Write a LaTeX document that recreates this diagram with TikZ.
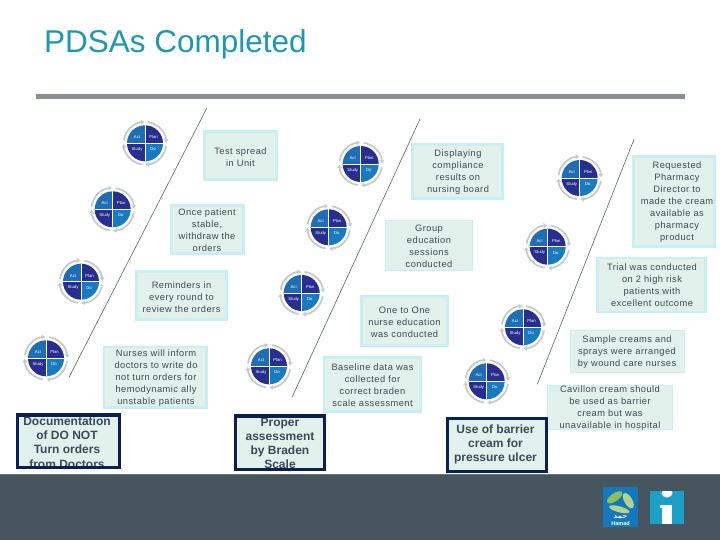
\documentclass[tikz,border=0pt]{standalone}
\usepackage{fontspec}
\setmainfont{Liberation Sans}
\newfontfamily\lblfont[LetterSpace=5]{Liberation Sans}
\newfontfamily\arfont[Script=Arabic]{DejaVu Sans}
\TeXXeTstate=1
\usetikzlibrary{arrows.meta,positioning}
\definecolor{titlec}{HTML}{1F97B0}
\definecolor{barc}{HTML}{8A9094}
\definecolor{footc}{HTML}{47555E}
\definecolor{footl}{HTML}{6A767C}
\definecolor{boxf}{HTML}{E3F1EC}
\definecolor{boxb}{HTML}{C8F0F4}
\definecolor{darkb}{HTML}{0A2050}
\definecolor{txtc}{HTML}{3F4A50}
\definecolor{boldc}{HTML}{3A4A58}
\definecolor{qa}{HTML}{1F6DB4}
\definecolor{qb}{HTML}{262F8E}
\definecolor{qc}{HTML}{1A7AC0}
\definecolor{ringc}{HTML}{C4C9CC}
\definecolor{linec}{HTML}{5A6570}
\definecolor{hamadb}{HTML}{1478BE}
\definecolor{ibl}{HTML}{1DA0C8}
\definecolor{leafa}{HTML}{8CC05A}
\definecolor{leafb}{HTML}{B4D48C}
\tikzset{
  x=1pt,y=-1pt,
  softbox/.style={draw=boxb,fill=boxf,line width=2.6pt,inner sep=0pt},
  thinbox/.style={draw=boxb,fill=boxf,line width=1pt,inner sep=0pt},
  goalframe/.style={draw=darkb,line width=3.2pt},
  lab/.style={font=\lblfont\fontsize{9.3}{12}\selectfont,align=center,inner sep=0pt,text=txtc},
  boldlab/.style={font=\bfseries\fontsize{12}{14.2}\selectfont,align=center,inner sep=0pt,text=boldc},
  ramp/.style={draw=linec,line width=0.6pt},
  ringarc/.style={draw=ringc,line width=1.7pt,-{Stealth[length=3.6pt,width=5pt]}},
  qlab/.style={font=\fontsize{4.2}{5}\selectfont,text=white,inner sep=0pt},
}
\newcommand\pdsacycle[3]{%
  \begin{scope}[shift={(#2,#3)}]
    \draw[ringarc] (172:21.3pt) arc[start angle=172,end angle=92,radius=21.3pt];
    \draw[ringarc] (82:21.3pt) arc[start angle=82,end angle=2,radius=21.3pt];
    \draw[ringarc] (-8:21.3pt) arc[start angle=-8,end angle=-88,radius=21.3pt];
    \draw[ringarc] (-98:21.3pt) arc[start angle=-98,end angle=-178,radius=21.3pt];
    \fill[qa] (0pt,0pt) -- (90:18pt) arc[start angle=90,end angle=180,radius=18pt] -- cycle;
    \fill[qb] (0pt,0pt) -- (0:18pt) arc[start angle=0,end angle=90,radius=18pt] -- cycle;
    \fill[qb] (0pt,0pt) -- (180:18pt) arc[start angle=180,end angle=270,radius=18pt] -- cycle;
    \fill[qc] (0pt,0pt) -- (270:18pt) arc[start angle=270,end angle=360,radius=18pt] -- cycle;
    \draw[white,line width=0.6pt] (-18pt,0pt) -- (18pt,0pt) (0pt,-18pt) -- (0pt,18pt);
    \node[qlab] (#1a) at (-8pt,6pt) {Act};
    \node[qlab] (#1p) at (8.5pt,6pt) {Plan};
    \node[qlab] (#1s) at (-8pt,-6pt) {Study};
    \node[qlab] (#1d) at (8pt,-6pt) {Do};
  \end{scope}}
\begin{document}
\begin{tikzpicture}
\useasboundingbox (0,0) rectangle (720,540);
\fill[white] (0,0) rectangle (720,540);
% title and bar
\node[anchor=base west,inner sep=0pt,text=titlec,font=\fontsize{31.5}{34}\selectfont] (title) at (44,53) {PDSAs Completed};
\fill[barc] (36,94) rectangle (685,99);
% footer
\fill[footc] (0,474) rectangle (720,540);
\fill[footl] (0,474) rectangle (720,475);
% ramps
\coordinate (r1a) at (206.7,108.3); \coordinate (r1b) at (69,377.3);
\coordinate (r2a) at (420,119); \coordinate (r2b) at (292.3,396.7);
\coordinate (r3a) at (634,139.3); \coordinate (r3b) at (537.3,384.3);
\draw[ramp] (r1a) -- (r1b);
\draw[ramp] (r2a) -- (r2b);
\draw[ramp] (r3a) -- (r3b);
% cycles
\pdsacycle{c1}{145}{143.3}
\pdsacycle{c2}{112.7}{209.3}
\pdsacycle{c3}{81}{281.7}
\pdsacycle{c4}{46}{358.3}
\pdsacycle{c5}{360.7}{164}
\pdsacycle{c6}{328.7}{227.3}
\pdsacycle{c7}{301.7}{293}
\pdsacycle{c8}{269}{366.3}
\pdsacycle{c9}{579.7}{178}
\pdsacycle{c10}{547.7}{246.7}
\pdsacycle{c11}{523}{327.3}
\pdsacycle{c12}{486.7}{381.3}
% soft boxes: drawn from corners
\newcommand\softb[6][softbox]{\path[#1] (#3,#4) rectangle (#5,#6); \coordinate (#2) at ({(#3+#5)/2},{(#4+#6)/2});}
\softb{b1}{204.3}{131.3}{276.7}{179.7}
\softb{b2}{171.3}{205.3}{243.7}{253.7}
\softb{b3}{136.3}{271.3}{226.7}{319.7}
\softb{b4}{104}{347}{206.7}{407.7}
\softb{b5}{412.3}{144.3}{502.7}{198.7}
\softb[thinbox]{b6}{385.5}{220.5}{472.5}{270.5}
\softb{b7}{361.3}{296.3}{447.7}{345.4}
\softb{b8}{324}{357.3}{420.7}{411.4}
\softb{b9}{633.6}{156.3}{714.7}{246.7}
\softb{b10}{597.3}{258}{705.7}{312}
\softb[thinbox]{b11}{570.5}{330.5}{684.5}{372.5}
\softb[thinbox]{b12}{547.5}{385.5}{672.5}{429.5}
\fill[boxf] (17,414.5) rectangle (120,468.5);
\fill[boxf] (235,415.5) rectangle (325,469.5);
\fill[boxf] (447,418) rectangle (546,471.5);
% labels
\node[lab] (t1) at (240.5,157.5) {Test spread\\in Unit};
\node[lab] (t2) at (207,230) {Once patient\\stable,\\withdraw the\\orders};
\node[lab] (t3) at (181.5,297) {Reminders in\\every round to\\review the orders};
\node[lab] (t4) at (156,378) {Nurses will inform\\doctors to write do\\not turn orders for\\hemodynamic ally\\unstable patients};
\node[lab] (t5) at (458,172) {Displaying\\compliance\\results on\\nursing board};
\node[lab] (t6) at (429,246) {Group\\education\\sessions\\conducted};
\node[lab] (t7) at (404.5,322) {One to One\\nurse education\\was conducted};
\node[lab] (t8) at (372.5,385) {Baseline data was\\collected for\\correct braden\\scale assessment};
\node[lab] (t9) at (677,202) {Requested\\Pharmacy\\Director to\\made the cream\\available as\\pharmacy\\product};
\node[lab] (t10) at (652,285) {Trial was conducted\\on 2 high risk\\patients with\\excellent outcome};
\node[lab] (t11) at (627,352) {Sample creams and\\sprays were arranged\\by wound care nurses};
\node[lab] (t12) at (610,408) {Cavillon cream should\\be used as barrier\\cream but was\\unavailable in hospital};
\node[boldlab] (g1) at (67,442.5) {Documentation\\of DO NOT\\Turn orders\\from Doctors};
\node[boldlab] (g2) at (280,443.5) {Proper\\assessment\\by Braden\\Scale};
\node[boldlab] (g3) at (495.5,444.5) {Use of barrier\\cream for\\pressure ulcer};
% goal frames on top of the text
\draw[goalframe] (17.6,414.9) rectangle (119.1,467.7);
\draw[goalframe] (235.6,415.9) rectangle (324.4,469.1);
\draw[goalframe] (447.6,418.3) rectangle (546.1,471.1);
% logos
\fill[hamadb] (603,487) rectangle (638,527);
\fill[leafa,rotate around={35:(614.7,497.3)}] (614.7,497.3) ellipse (9 and 4);
\fill[leafb,rotate around={-60:(628.3,500.7)}] (628.3,500.7) ellipse (8.5 and 4);
\fill[leafb,rotate around={-15:(619.3,509.3)}] (619.3,509.3) ellipse (10.5 and 3);
\node[inner sep=0pt,text=white,font=\arfont\bfseries\fontsize{7}{8}\selectfont] (har) at (620.5,517) {\beginR حمد\endR};
\node[inner sep=0pt,text=white,font=\bfseries\fontsize{5.5}{6}\selectfont] (hen) at (620.5,523.5) {Hamad};
\fill[ibl] (650,491) rectangle (684,524);
\begin{scope}
\clip (650,491) rectangle (684,524);
\fill[white] (667,493) ellipse (5.5 and 4.5);
\end{scope}
\fill[white] (662,505) rectangle (672,524);
\fill[white] (660,505) rectangle (672,508);
\end{tikzpicture}
\end{document}
